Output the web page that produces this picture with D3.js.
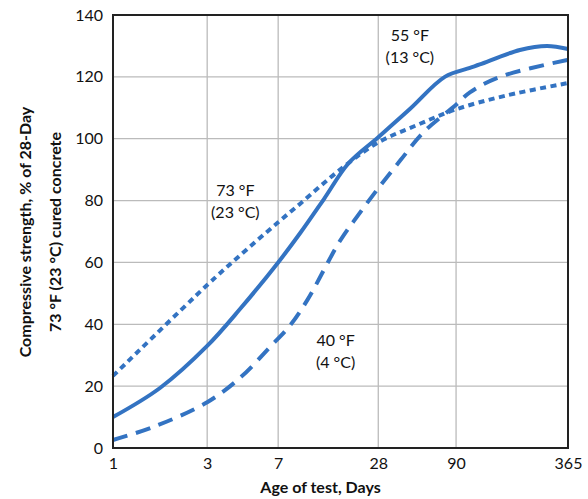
<!DOCTYPE html>
<html>
<head>
<meta charset="utf-8">
<script src="https://cdn.jsdelivr.net/npm/d3@7"></script>
<style>
  body { margin: 0; background: #fff; }
  text { font-family: Lato, "Open Sans", sans-serif; fill: #111; }
</style>
</head>
<body>
<svg id="chart" width="588" height="499"></svg>
<script>
// tick values along the x axis (days) and y axis (%)
const dayTicks = [1, 3, 7, 28, 90, 365];
const pctTicks = [0, 20, 40, 60, 80, 100, 120, 140];

// curves: [day, percent]
const temp55 = [[1, 10], [1.73, 19.4], [3, 33], [4.45, 45], [7, 60], [9.5, 69.5], [13.2, 80.5], [18.5, 92],
  [28, 100.5], [45, 109.6], [76, 120], [107, 122.9], [121, 124], [200, 128.7], [281, 130], [365, 129]];
const temp73 = [[1, 23.3], [3, 52.7], [4.3, 61.5], [7, 73], [9.5, 79], [16.5, 90], [28, 98.8],
  [50, 104.4], [90, 109.5], [170, 114], [365, 118]];
const temp40 = [[1, 2.6], [1.6, 6.8], [3, 14.8], [4.5, 23], [6.36, 32.7], [8.3, 39.8], [10.5, 47.9],
  [16.5, 67], [21.2, 75.3], [28, 84], [39, 93], [55, 102], [90, 111], [107, 115], [156, 120], [365, 125.5]];

const labels55 = ["55 °F", "(13 °C)"];
const labels73 = ["73 °F", "(23 °C)"];
const labels40 = ["40 °F", "(4 °C)"];

const margin = {top: 15, right: 20, bottom: 51, left: 113};
const width = 588 - margin.left - margin.right;
const height = 499 - margin.top - margin.bottom;

const svg = d3.select("#chart");
const g = svg.append("g").attr("transform", `translate(${margin.left},${margin.top})`);

// the axis is not a plain log: each interval gets its own share of the width
const tickFrac = [0, 0.207, 0.363, 0.583, 0.754, 1];
const x = d3.scaleLog().domain(dayTicks).range(tickFrac.map(f => f * width));
const y = d3.scaleLinear().domain([0, 140]).range([height, 0]);

// grid
g.append("g")
  .selectAll("line")
  .data(pctTicks.slice(1, -1))
  .join("line")
  .attr("x1", 0).attr("x2", width)
  .attr("y1", d => y(d)).attr("y2", d => y(d))
  .attr("stroke", "#bbb").attr("stroke-width", 1.3);

g.append("g")
  .selectAll("line")
  .data(dayTicks.slice(1, -1))
  .join("line")
  .attr("x1", d => x(d)).attr("x2", d => x(d))
  .attr("y1", 0).attr("y2", height)
  .attr("stroke", "#bbb").attr("stroke-width", 1.3);

// axes (labels only)
const yAxis = g.append("g")
  .call(d3.axisLeft(y).tickValues(pctTicks).tickSize(0).tickPadding(10));
yAxis.select(".domain").remove();
yAxis.selectAll("text").style("font-size", "16px").style("font-family", "Lato, sans-serif").attr("fill", "#111");

const xAxis = g.append("g")
  .attr("transform", `translate(0,${height})`)
  .call(d3.axisBottom(x).tickValues(dayTicks).tickFormat(d3.format("d")).tickSize(0).tickPadding(10));
xAxis.select(".domain").remove();
xAxis.selectAll("text").style("font-size", "16px").style("font-family", "Lato, sans-serif").attr("fill", "#111");

// curves
const line = d3.line()
  .x(d => x(d[0]))
  .y(d => y(d[1]))
  .curve(d3.curveCatmullRom.alpha(0.5));

const series = [
  {data: temp55, dash: null},
  {data: temp73, dash: "6,4.5"},
  {data: temp40, dash: "15,9"}
];

g.append("g")
  .selectAll("path")
  .data(series)
  .join("path")
  .attr("d", d => line(d.data))
  .attr("fill", "none")
  .attr("stroke", "#3373c2")
  .attr("stroke-width", 4)
  .attr("stroke-dasharray", d => d.dash);

// frame
g.append("rect")
  .attr("width", width).attr("height", height)
  .attr("fill", "none").attr("stroke", "#222").attr("stroke-width", 2);

// curve labels
function addLabel(lines, day, pct) {
  const t = g.append("text")
    .attr("x", x(day)).attr("y", y(pct))
    .attr("text-anchor", "middle")
    .style("font-size", "16px");
  lines.forEach((s, i) => {
    t.append("tspan").attr("x", x(day)).attr("dy", i ? 22 : 0).text(s);
  });
}
addLabel(labels55, 45, 131.5);
addLabel(labels73, 4.2, 81.5);
addLabel(labels40, 15.5, 33);

// axis titles
svg.append("text")
  .attr("x", margin.left + width / 2 - 20).attr("y", 493)
  .attr("text-anchor", "middle")
  .style("font-size", "16px").style("font-weight", "bold")
  .text("Age of test, Days");

const yt = svg.append("text")
  .attr("transform", "translate(0,232) rotate(-90)")
  .attr("text-anchor", "middle")
  .style("font-size", "16px").style("font-weight", "bold");
yt.append("tspan").attr("x", 0).attr("y", 31).text("Compressive strength, % of 28-Day");
yt.append("tspan").attr("x", 0).attr("y", 61).text("73 °F (23 °C) cured concrete");
</script>
</body>
</html>
